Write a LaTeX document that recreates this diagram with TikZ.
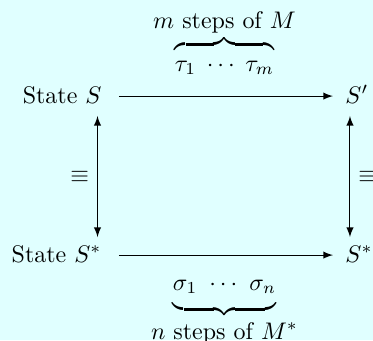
\documentclass[tikz,border=0pt]{standalone}
\usepackage{amsmath}
\definecolor{bgcyan}{RGB}{224,255,255}
\tikzset{
    trans/.style={-latex, shorten <=3.75pt, shorten >=1.7pt},
    equivarrow/.style={latex-latex},
}
\begin{document}
\begin{tikzpicture}
    \useasboundingbox (0,0) rectangle (5.463,4.98);
    \fill[bgcyan] (0,0) rectangle (5.463,4.98);
    % the four states, right-aligned on the left and left-aligned on the right
    \node[anchor=base east] (s) at (1.611,3.471) {State $S$};
    \node[anchor=base east] (ss) at (1.611,1.142) {State $S^*$};
    \node[anchor=base west] (sp) at (4.936,3.471) {$S'$};
    \node[anchor=base west] (sps) at (4.936,1.142) {$S^*$};
    % step sequences with their braces
    \node[anchor=base] (tau) at (3.288,3.940) {$\overbrace{\rule{0pt}{7.5pt}\tau_1\;\cdots\;\tau_m}^{\mbox{$m$ steps of $M$}}$};
    \node[anchor=base] (sigma) at (3.288,0.732) {$\underbrace{\rule[-4.5pt]{0pt}{4.5pt}\sigma_1\ \cdots\ \sigma_n}_{\mbox{$n$ steps of $M^*$}}$};
    % runs of the two machines
    \draw[trans] ([yshift=2.9pt]s.base east) -- ([yshift=2.9pt]sp.base west);
    \draw[trans] ([yshift=2.9pt]ss.base east) -- ([yshift=2.9pt]sps.base west);
    % equivalence of the states
    \draw[equivarrow] ([xshift=-5.2pt,yshift=-5.4pt]s.base east)
        -- ([xshift=-5.2pt,yshift=10.4pt]ss.base east) node[midway, left] {$\equiv$};
    \draw[equivarrow] ([xshift=5.4pt,yshift=-5.4pt]sp.base west)
        -- ([xshift=5.4pt,yshift=10.4pt]sps.base west) node[midway, right] {$\equiv$};
\end{tikzpicture}
\end{document}
